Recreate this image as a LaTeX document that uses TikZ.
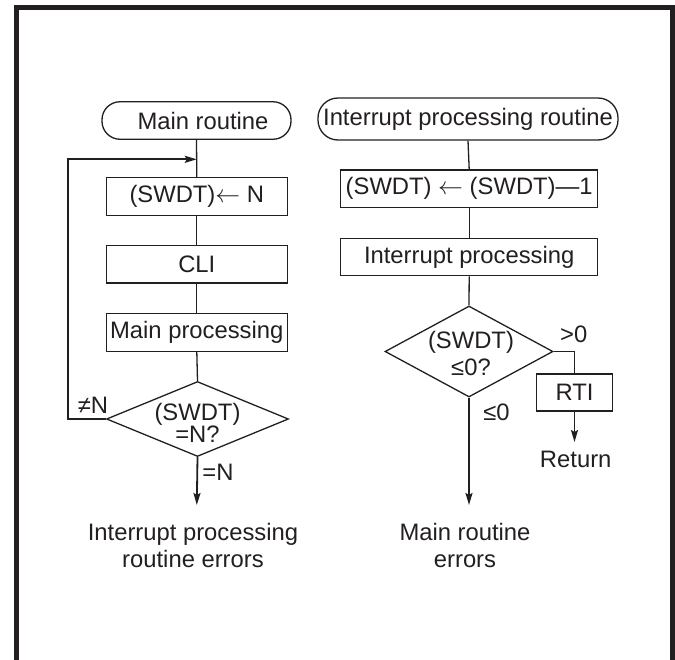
\documentclass[tikz,border=0pt]{standalone}
\usepackage{fontspec}
\setmainfont{Liberation Sans}
\usetikzlibrary{shapes.geometric,arrows.meta}
\definecolor{ink}{HTML}{231F20}
\newcommand{\larr}{\raisebox{0.5pt}{$\leftarrow$}}
\begin{document}
\begin{tikzpicture}[x=1pt,y=-1pt,
  every node/.style={font=\fontsize{23.8}{27}\selectfont, text=ink, inner sep=0pt},
  box/.style={draw=ink, line width=1.3pt, rectangle, minimum width=181pt, minimum height=37.5pt},
  wbox/.style={box, minimum width=257pt},
  term/.style={draw=ink, line width=1.3pt, rectangle, rounded corners=18pt, minimum height=37.5pt},
  dec/.style={draw=ink, line width=1.3pt, diamond},
  conn/.style={draw=ink, line width=1.3pt},
  loop/.style={draw=ink, line width=1.8pt, -{Stealth[length=12pt,width=7pt,inset=2pt]}},
  arr/.style={draw=ink, line width=1.8pt, -{Stealth[length=12pt,width=7pt,inset=2pt]}},
  frame/.style={draw=ink, line width=5pt}
]
\useasboundingbox (0,0) rectangle (675,659);
\draw[frame] (16.5,662) -- (16.5,7.5) -- (672.5,7.5) -- (672.5,662);

% left column
\node[term, minimum width=189pt] (mr) at (196.5,120.5) {\hspace*{13pt}Main routine};
\node[box] (set) at (196.8,196.5) {(SWDT)\larr\ N};
\node[box] (cli) at (196.8,264.2) {CLI};
\node[box] (mp) at (196.8,332.5) {Main processing};
\node[dec, minimum width=182pt, minimum height=75pt] (d1) at (197.5,419) {};
\node[align=center, anchor=north] (d1t) at (197.5,403) {(SWDT)\\[-4.5pt]=N?};
\coordinate (lj) at (196.8,159.3);
\coordinate (le) at (196.8,505);
\node (ne) at (93,405.5) {≠N};
\node (eq) at (218,472.5) {=N};
\node[align=center, anchor=north] (e1) at (193,523) {Interrupt processing\\routine errors};

\draw[conn] (mr.south) -- (set.north);
\draw[conn] (set.south) -- (cli.north);
\draw[conn] (cli.south) -- (mp.north);
\draw[conn] (mp.south) -- (d1.north);
\draw[loop] (d1.west) -- (68.3,419) -- (68.3,159.3) -- (lj);
\draw[arr] (d1.south) -- (le);

% right column
\node[term, minimum width=300pt, minimum height=42pt, rounded corners=20pt] (ir) at (468,119) {Interrupt processing routine};
\node[wbox] (dec1) at (469.2,188.8) {(SWDT) \larr\ (SWDT)—1};
\node[wbox] (ip) at (469.2,257) {Interrupt processing};
\node[dec, minimum width=168pt, minimum height=91pt] (d2) at (469,351.5) {};
\node[align=center, anchor=north] (d2t) at (471,331) {(SWDT)\\≤0?};
\coordinate (bend) at (574.5,351.5);
\node[draw=ink, line width=1.3pt, minimum width=75.5pt, minimum height=37pt] (rti) at (574.5,392.5) {RTI};
\coordinate (rte) at (574.5,442);
\node (ret) at (575.7,459) {Return};
\node (gt) at (573.7,334) {>0};
\node (le0) at (496.5,412.5) {≤0};
\coordinate (re) at (469,505);
\node[align=center, anchor=north] (e2) at (465,523) {Main routine\\errors};

\draw[conn] (ir.south) -- (dec1.north);
\draw[conn] (dec1.south) -- (ip.north);
\draw[conn] (ip.south) -- (d2.north);
\draw[conn] (d2.east) -- (bend) -- (rti.north);
\draw[arr] (rti.south) -- (rte);
\draw[arr] (d2.south) -- (re);
\end{tikzpicture}
\end{document}
